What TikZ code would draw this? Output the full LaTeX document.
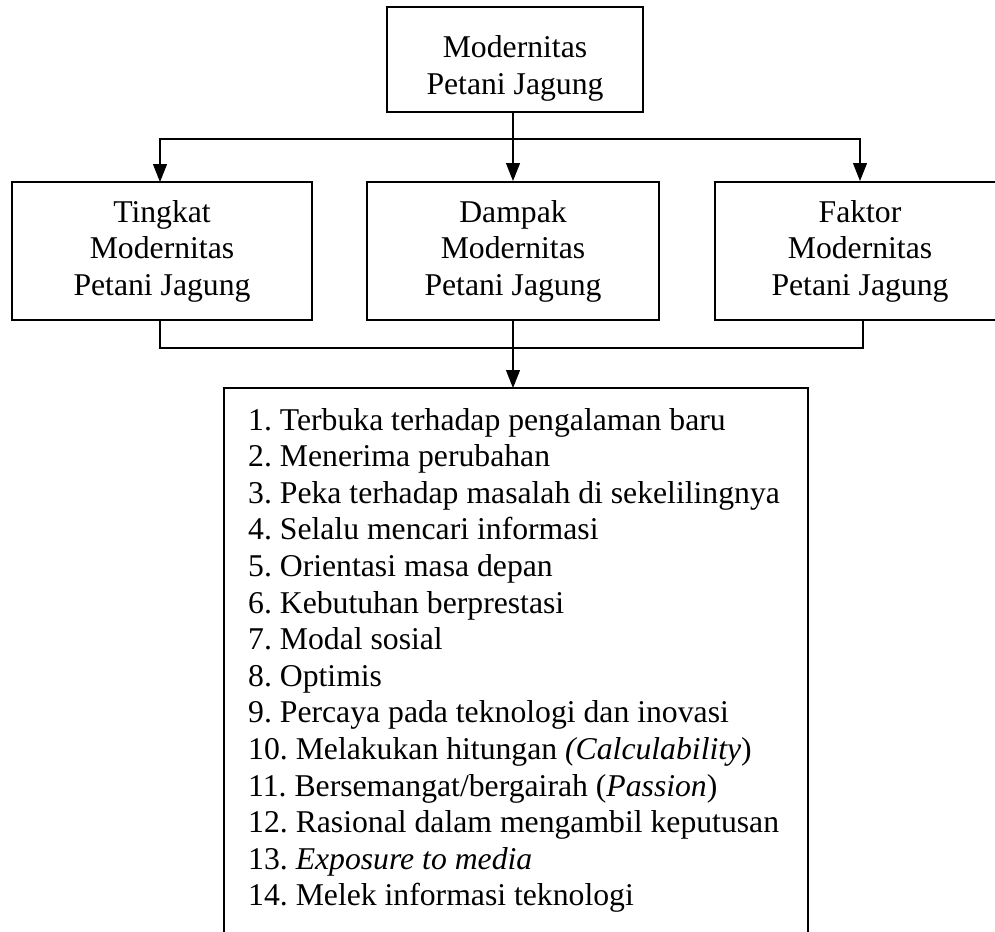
\documentclass[tikz,border=0pt]{standalone}
\usepackage{fontspec}
\setmainfont{Liberation Serif}
\usetikzlibrary{arrows.meta}
\frenchspacing
\tikzset{
  boxstyle/.style={draw, line width=2pt, inner sep=0pt, align=center,
    font=\fontsize{31.7}{36.5}\selectfont},
  textonly/.style={inner sep=0pt, align=center, font=\fontsize{31.7}{36.5}\selectfont},
  conn/.style={line width=1.1pt},
  arr/.style={conn, -{Triangle[length=18pt,width=14pt]}},
  itemstyle/.style={anchor=base west, inner sep=0pt, font=\fontsize{31.7}{36.5}\selectfont}
}
\begin{document}
\begin{tikzpicture}[x=1pt,y=-1pt]
\frenchspacing
\useasboundingbox (0,0) rectangle (995,931);
% boxes
\node[boxstyle, minimum width=256pt, minimum height=105pt] (top) at (515,59.5) {};
\node[textonly] (toptext) at (515,68.5) {Modernitas\\Petani Jagung};
\node[boxstyle, minimum width=300pt, minimum height=138pt] (lb) at (162,251) {Tingkat\\Modernitas\\Petani Jagung};
\node[boxstyle, minimum width=292pt, minimum height=138pt] (mb) at (513,251) {Dampak\\Modernitas\\Petani Jagung};
\node[boxstyle, minimum width=290pt, minimum height=138pt] (rb) at (860,251) {Faktor\\Modernitas\\Petani Jagung};
% list box (open at the bottom)
\node[draw=none, inner sep=0pt, minimum width=584pt, minimum height=550pt, anchor=north] (listbox) at (516,388) {};
\draw[line width=2pt] (listbox.south west) -- (listbox.north west) -- (listbox.north east) -- (listbox.south east);
% connectors
\coordinate (ht) at (513,139);
\coordinate (hb) at (513,348);
\draw[arr] (top.south -| mb.north) -- (mb.north);
\draw[arr] (ht) -| (160,182) coordinate (lbin);
\draw[arr] (ht) -| (rb.north);
\draw[conn] (lb.south -| 160,0) |- (hb) -| (rb.south -| 863,0);
\draw[arr] (mb.south) -- (mb.south |- listbox.north);
% list items
\node[itemstyle] (l1) at (248,430.0) {1. Terbuka terhadap pengalaman baru};
\node[itemstyle] (l2) at (248,466.6) {2. Menerima perubahan};
\node[itemstyle] (l3) at (248,503.2) {3. Peka terhadap masalah di sekelilingnya};
\node[itemstyle] (l4) at (248,539.8) {4. Selalu mencari informasi};
\node[itemstyle] (l5) at (248,576.4) {5. Orientasi masa depan};
\node[itemstyle] (l6) at (248,613.0) {6. Kebutuhan berprestasi};
\node[itemstyle] (l7) at (248,649.6) {7. Modal sosial};
\node[itemstyle] (l8) at (248,686.2) {8. Optimis};
\node[itemstyle] (l9) at (248,722.8) {9. Percaya pada teknologi dan inovasi};
\node[itemstyle] (l10) at (248,759.4) {10. Melakukan hitungan \textit{(Calculability}{)}};
\node[itemstyle] (l11) at (248,796.0) {11. Bersemangat/bergairah (\textit{Passion})};
\node[itemstyle] (l12) at (248,832.6) {12. Rasional dalam mengambil keputusan};
\node[itemstyle] (l13) at (248,869.2) {13. \textit{Exposure to media}};
\node[itemstyle] (l14) at (248,905.8) {14. Melek informasi teknologi};
\end{tikzpicture}
\end{document}
